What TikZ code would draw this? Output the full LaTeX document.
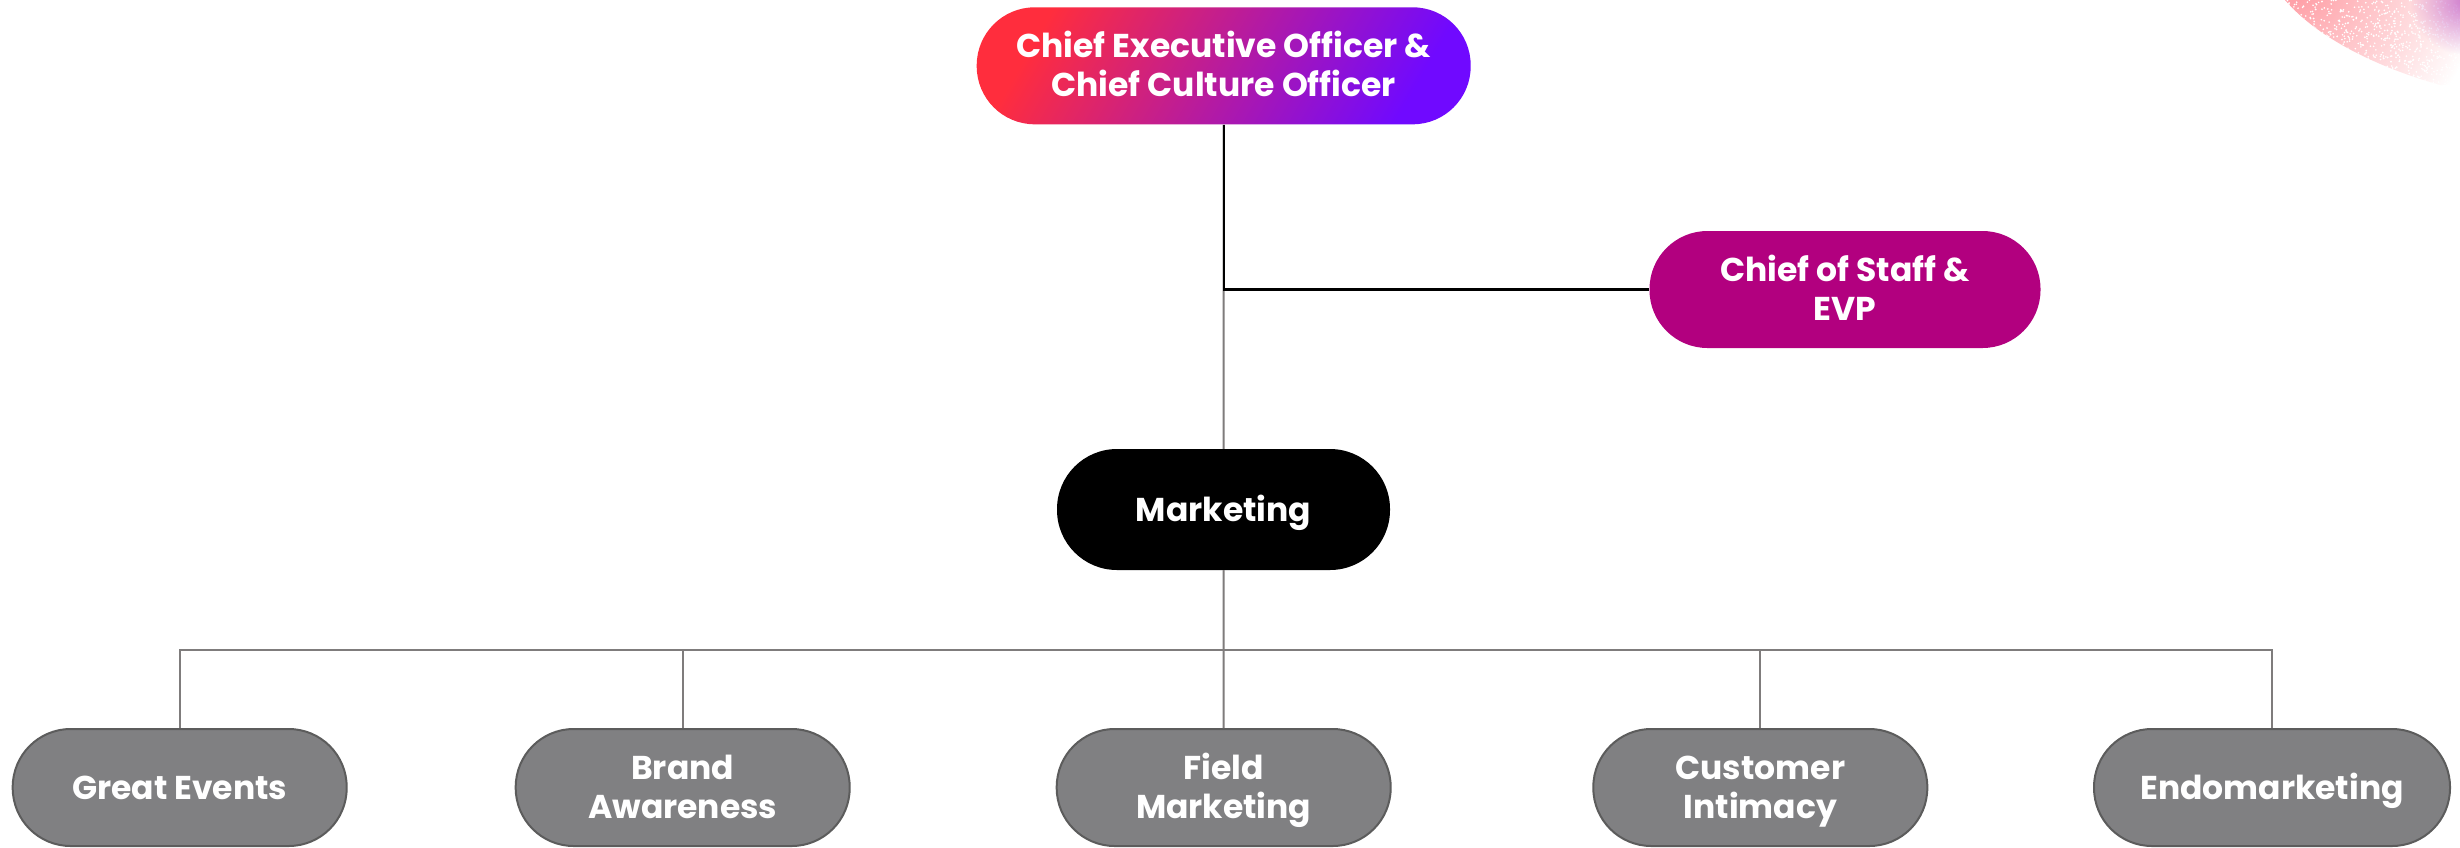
\documentclass[tikz,border=0pt]{standalone}
\usepackage{fontspec}
\setmainfont{Poppins}
\usetikzlibrary{fadings,calc}
\definecolor{cred}{HTML}{FF2D3D}
\definecolor{cmid}{HTML}{CF22AA}
\definecolor{cviolet}{HTML}{7009FF}
\definecolor{cmag}{HTML}{B2007F}
\definecolor{cgrey}{HTML}{808082}
\definecolor{cedge}{HTML}{5C5C5C}
\definecolor{cline}{HTML}{7F7C7C}
\tikzfading[name=speck,inner color=transparent!50,outer color=transparent!100]
\newcommand{\ts}{\rule[-10pt]{0pt}{43pt}}
\newcommand{\pillfont}{\bfseries\fontsize{33}{39}\selectfont\setlength{\lineskiplimit}{-100pt}}
\tikzset{x=1pt,y=-1pt,
 pill/.style={shape=rectangle,rounded corners=58pt,inner sep=0pt,minimum height=117pt,align=center,
   text=white,font=\pillfont},
 lead/.style={pill,minimum width=494pt},
 staff/.style={pill,minimum width=391pt,fill=cmag},
 head/.style={pill,minimum width=333pt,minimum height=121pt,fill=black,rounded corners=60pt},
 team/.style={pill,minimum width=334pt,fill=cgrey,draw=cedge,line width=2pt},
 conn/.style={draw=cline,line width=2pt},
 topconn/.style={draw=black,line width=2.2pt}}
\begin{document}
\begin{tikzpicture}
\useasboundingbox (0,0) rectangle (2460,847);
\fill[white] (0,0) rectangle (2460,847);
% corner decoration
\begin{scope}
\clip (2285,0) .. controls (2315,35) and (2370,65) .. (2440,85) -- (2460,85) -- (2460,0) -- cycle;
\fill[cred,path fading=speck] (2100,-210) rectangle (2480,170);
\pgfmathsetseed{42}
\foreach \i in {1,...,900}{
  \pgfmathsetmacro{\dx}{2285+175*rnd}
  \pgfmathsetmacro{\dy}{85*rnd}
  \fill[white] (\dx,\dy) circle (0.9pt);
}
\end{scope}
\fill[cmag!70!cviolet,path fading=speck] (2410,-55) rectangle (2520,55);
\node[lead,left color=cred,middle color=cmid,right color=cviolet,shading angle=60] (ceo) at (1223.7,65.8) {\ts Chief Executive Officer \&\\\ts Chief Culture Officer};
\node[staff] (cos) at (1845,289.5) {\ts Chief of Staff \&\\\ts EVP};
\node[head] (mkt) at (1223.5,509.5) {\ts Marketing};
\node[team] (t1) at (179.7,787.5) {\ts Great Events};
\node[team] (t2) at (682.7,787.5) {\ts Brand\\\ts Awareness};
\node[team] (t3) at (1223.7,787.5) {\ts Field\\\ts Marketing};
\node[team] (t4) at (1760.3,787.5) {\ts Customer\\\ts Intimacy};
\node[team,minimum width=356pt] (t5) at (2272,787.5) {\ts Endomarketing};
\coordinate (bus) at (1223.7,650);
\draw[conn] (ceo.south) -- (mkt.north);
\draw[topconn] (ceo.south) |- (cos.west);
\draw[conn] (mkt.south) -- (t3.north);
\draw[conn] (bus) -| (t1.north);
\draw[conn] (bus) -| (t2.north);
\draw[conn] (bus) -| (t4.north);
\draw[conn] (bus) -| (t5.north);
\end{tikzpicture}
\end{document}
